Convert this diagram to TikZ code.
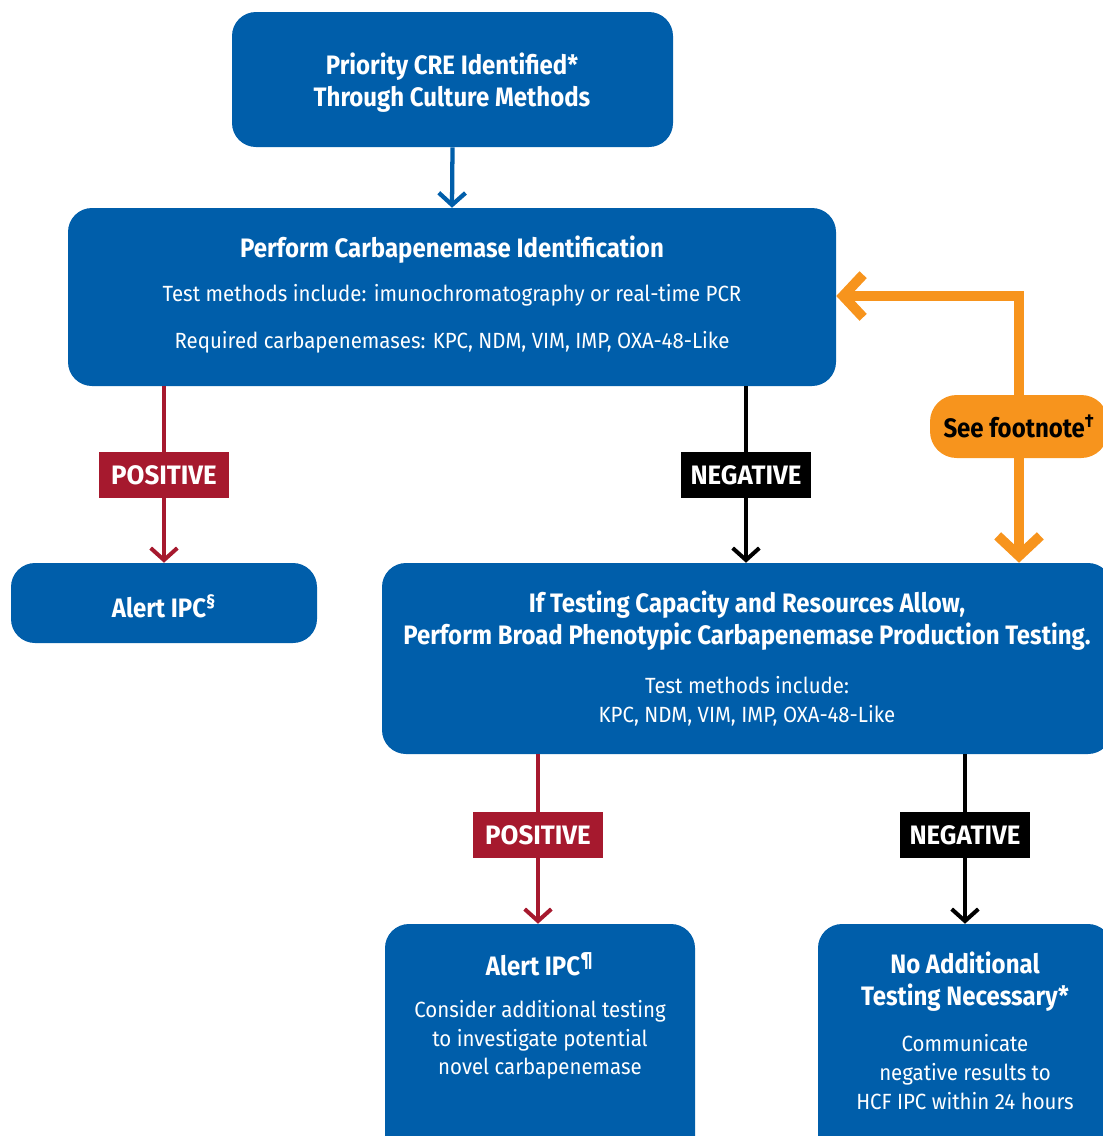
\documentclass[tikz,border=0pt]{standalone}
\usepackage{fontspec}
\setmainfont{Fira Sans}[FakeStretch=0.93, BoldFeatures={FakeStretch=0.9}]
\newfontfamily\tagfont{Fira Sans}[FakeStretch=0.97]
\usetikzlibrary{arrows.meta,fit}
\definecolor{cblue}{HTML}{005EAA}
\definecolor{cred}{HTML}{A6192E}
\definecolor{corange}{HTML}{F7941D}
\tikzset{
  box/.style={fill=cblue, draw=none, rounded corners=18pt, inner sep=0pt},
  ttl/.style={text=white, align=center, inner sep=0pt,
    font=\fontsize{20}{24}\bfseries\selectfont},
  txt/.style={text=white, align=center, inner sep=0pt,
    font=\fontsize{16.5}{21.5}\selectfont},
  tag/.style={text=white, inner sep=0pt, minimum width=98pt, minimum height=34.5pt,
    font=\fontsize{20}{22}\tagfont\bfseries\selectfont},
  chev/.style={-{Straight Barb[length=9pt,width=20pt]}},
  blueline/.style={draw=cblue, line width=3.2pt},
  redline/.style={draw=cred, line width=3pt},
  blackline/.style={draw=black, line width=3pt},
  orangeline/.style={draw=corange, line width=7.5pt},
  bigchev/.style={-{Straight Barb[length=15pt,width=32pt]}},
}
\begin{document}
\begin{tikzpicture}[x=0.75pt,y=-0.75pt]
\useasboundingbox (0,0) rectangle (1103,1136);
\clip (0,0) rectangle (1103,1136);

% boxes
\node (b1) [box, fit={(232,12) (673,147)}] {};
\node (b2) [box, fit={(68,208) (836,386)}] {};
\node (b3) [box, fit={(11,563) (317,643)}] {};
\node (b4) [box, fit={(382,563) (1112,754)}] {};
\node (b5) [box, fit={(385,924) (695,1160)}] {};
\node (b6) [box, fit={(818,924) (1112,1160)}] {};

% box texts
\node (t1) [ttl] at (452,83) {Priority CRE Identified*\\Through Culture Methods};
\node (t2a) [ttl] at (452,250) {Perform Carbapenemase Identification};
\node (t2b) [txt] at (452,295) {Test methods include: imunochromatography or real-time PCR};
\node (t2c) [txt] at (452,342) {Required carbapenemases: KPC, NDM, VIM, IMP, OXA-48-Like};
\node (t3) [ttl] at (164,606) {Alert IPC\textsuperscript{§}};
\node (t4a) [ttl] at (747,621) {If Testing Capacity and Resources Allow,\\Perform Broad Phenotypic Carbapenemase Production Testing.};
\node (t4b) [txt] at (747,701) {Test methods include:\\KPC, NDM, VIM, IMP, OXA-48-Like};
\node (t5a) [ttl] at (540,964) {Alert IPC\textsuperscript{¶}};
\node (t5b) [txt] at (540,1040) {Consider additional testing\\to investigate potential\\novel carbapenemase};
\node (t6a) [ttl] at (965,982) {No Additional\\Testing Necessary*};
\node (t6b) [txt] at (965,1072) {Communicate\\negative results to\\HCF IPC within 24 hours};

% result tags
\node (p1) [tag, fill=cred] at (164,475) {POSITIVE};
\node (n1) [tag, fill=black] at (746,475) {NEGATIVE};
\node (p2) [tag, fill=cred] at (538,835) {POSITIVE};
\node (n2) [tag, fill=black] at (965,835) {NEGATIVE};

% footnote bubble
\node (foot) [fill=corange, rounded corners=20pt, inner sep=0pt,
  minimum width=133.5pt, minimum height=47.25pt,
  font=\fontsize{20}{22}\bfseries\selectfont] at (1019,426.5) {See footnote\textsuperscript{†}};
\coordinate (bend) at (1019,296);

% connectors
\draw[blueline, chev] (b1.south) -- (b2.north);
\draw[redline] (p1 |- b2.south) -- (p1.north);
\draw[redline, chev] (p1.south) -- (p1 |- b3.north);
\draw[blackline] (n1 |- b2.south) -- (n1.north);
\draw[blackline, chev] (n1.south) -- (n1 |- b4.north);
\draw[redline] (p2 |- b4.south) -- (p2.north);
\draw[redline, chev] (p2.south) -- (p2 |- b5.north);
\draw[blackline] (n2 |- b4.south) -- (n2.north);
\draw[blackline, chev] (n2.south) -- (n2 |- b6.north);
\draw[orangeline, bigchev] (foot.north) -- (bend) -- (bend -| b2.east);
\draw[orangeline, bigchev] (foot.south) -- (foot |- b4.north);
\end{tikzpicture}
\end{document}
